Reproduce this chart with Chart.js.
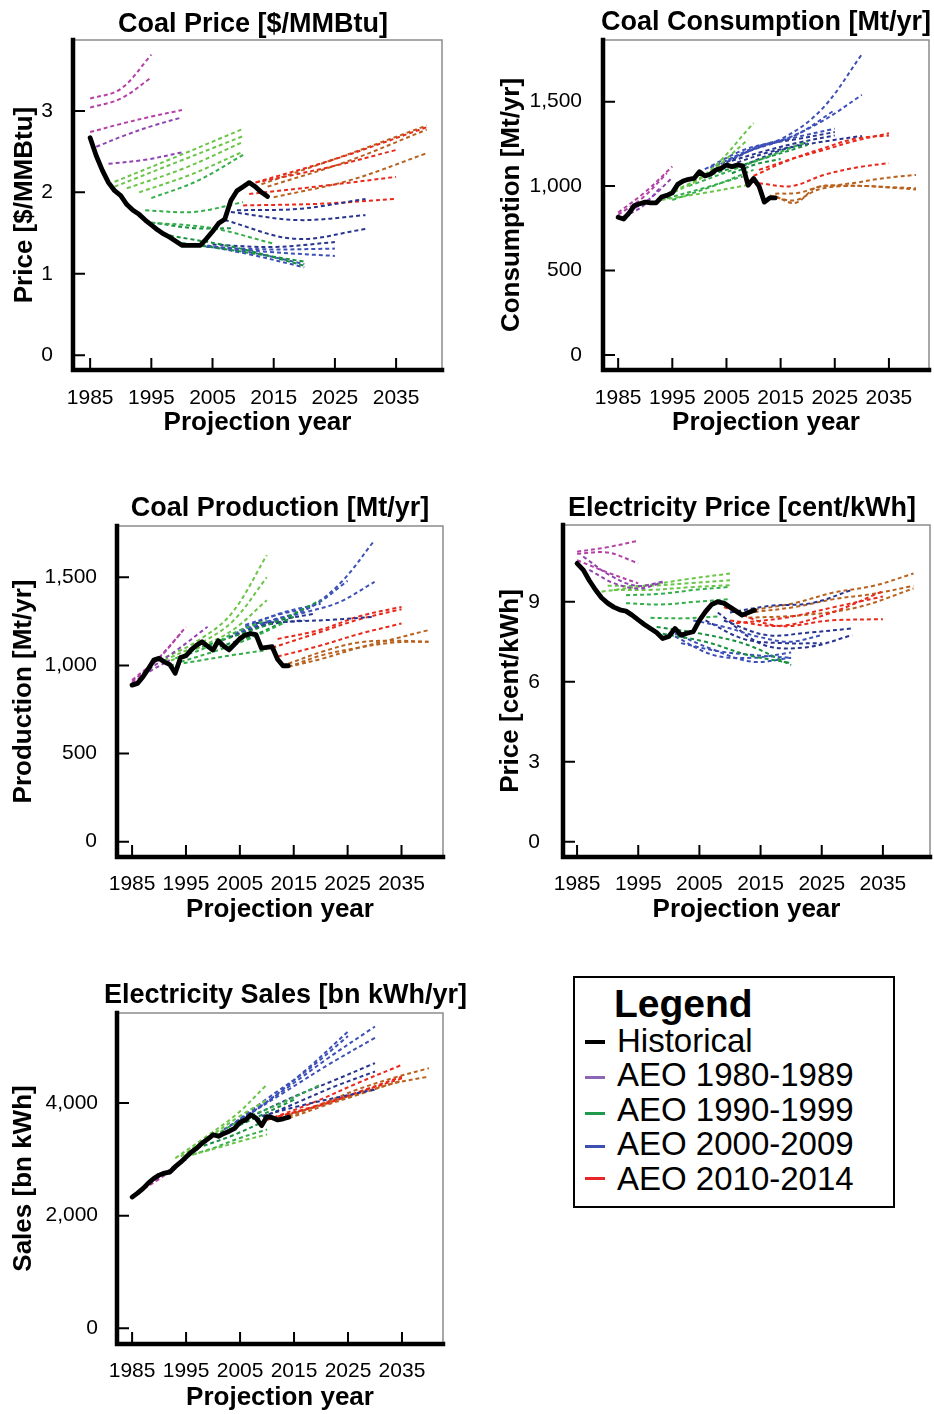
<!DOCTYPE html>
<html>
<head>
<meta charset="utf-8">
<title>AEO projections vs. historical</title>
<script src="https://cdn.jsdelivr.net/npm/chart.js@4.4.1/dist/chart.umd.min.js"></script>
<style>
  body { margin: 0; width: 934px; height: 1414px; position: relative; background: #fff; overflow: hidden;
         font-family: "Liberation Sans", Arial, Helvetica, sans-serif; color: #000; }
  canvas { position: absolute; }
  #legend { position: absolute; left: 573px; top: 976px; width: 318px; height: 228px; border: 2px solid #000; }
  #legend .t { position: absolute; left: 39px; top: 5.7px; font-size: 39px; line-height: 39px; font-weight: bold; }
  #legend .it { position: absolute; left: 42px; font-size: 33px; line-height: 33px; white-space: nowrap; }
  #legend .sw { position: absolute; left: 10px; width: 20px; }
</style>
</head>
<body>
<canvas id="c1" width="467" height="450" style="left:0;top:0"></canvas>
<canvas id="c2" width="467" height="450" style="left:467px;top:0"></canvas>
<canvas id="c3" width="467" height="470" style="left:0;top:470px"></canvas>
<canvas id="c4" width="467" height="470" style="left:467px;top:470px"></canvas>
<canvas id="c5" width="467" height="454" style="left:0;top:960px"></canvas>

<div id="legend">
  <div class="t">Legend</div>
  <div class="sw" style="top:61.7px;height:4px;background:#000"></div>
  <div class="it" style="top:45.8px">Historical</div>
  <div class="sw" style="top:97.8px;height:3px;background:#8e66b6"></div>
  <div class="it" style="top:80.3px">AEO 1980-1989</div>
  <div class="sw" style="top:133.8px;height:3px;background:#1e9a4a"></div>
  <div class="it" style="top:114.8px">AEO 1990-1999</div>
  <div class="sw" style="top:167.2px;height:3px;background:#3b50b0"></div>
  <div class="it" style="top:149.3px">AEO 2000-2009</div>
  <div class="sw" style="top:198.8px;height:3px;background:#e8262a"></div>
  <div class="it" style="top:183.8px">AEO 2010-2014</div>
</div>

<script>
Chart.defaults.font.family = '"Liberation Sans", Arial, Helvetica, sans-serif';
Chart.defaults.color = '#000';

// historical series all start in 1985, one value per year
const firstYear = 1985;
const xTicks = [1985, 1995, 2005, 2015, 2025, 2035];

// projection lines: [first year, last year, values evenly spread between them]

// --- coal price [$/MMBtu]
const coalPriceTicks = [0, 1, 2, 3];
const coalPriceHist = [2.67, 2.45, 2.27, 2.12, 2.02, 1.96, 1.85, 1.78, 1.73, 1.66,
  1.60, 1.54, 1.49, 1.45, 1.40, 1.35, 1.35, 1.35, 1.35, 1.43,
  1.52, 1.62, 1.67, 1.90, 2.02, 2.07, 2.12, 2.07, 2.00, 1.95];
const coalPrice80s = [
  [1985, 1995, 3.15, 3.27, 3.69],
  [1985, 1995, 3.04, 3.15, 3.41],
  [1985, 2000, 2.74, 2.84, 2.93, 3.01],
  [1986, 2000, 2.56, 2.70, 2.82, 2.92],
  [1988, 2000, 2.35, 2.40, 2.49]
];
const coalPrice90s = [
  [1989, 2010, 2.13, 2.45, 2.78],
  [1989, 2010, 2.07, 2.38, 2.69],
  [1991, 2010, 2.05, 2.30, 2.62],
  [1993, 2010, 2.00, 2.22, 2.50],
  [1995, 2010, 1.93, 2.14, 2.46],
  [1994, 2010, 1.78, 1.76, 1.88],
  [1995, 2015, 1.63, 1.56, 1.37],
  [1996, 2008, 1.62, 1.56, 1.56],
  [1998, 2020, 1.47, 1.32, 1.10],
  [2000, 2020, 1.38, 1.27, 1.15]
];
const coalPrice00s = [
  [2002, 2020, 1.37, 1.24, 1.08],
  [2003, 2020, 1.36, 1.26, 1.12],
  [2003, 2025, 1.35, 1.27, 1.22],
  [2004, 2025, 1.33, 1.30, 1.31],
  [2005, 2025, 1.36, 1.33, 1.39],
  [2007, 2030, 1.66, 1.43, 1.55],
  [2008, 2030, 1.76, 1.66, 1.72],
  [2009, 2030, 1.78, 1.80, 1.92]
];
const coalPrice10s = [
  [2010, 2035, 1.84, 1.86, 1.92],
  [2011, 2035, 1.98, 2.08, 2.19],
  [2012, 2035, 2.12, 2.30, 2.52],
  [2011, 2040, 2.10, 2.42, 2.80],
  [2013, 2040, 2.10, 2.45, 2.82],
  [2014, 2040, 2.07, 2.38, 2.77],
  [2015, 2040, 1.94, 2.15, 2.48]
];

// --- coal consumption [Mt/yr]
const consTicks = [0, 500, 1000, 1500];
const consHist = [815, 805, 840, 885, 895, 905, 900, 900, 935, 945,
  960, 1010, 1030, 1040, 1045, 1085, 1060, 1070, 1095, 1105,
  1125, 1115, 1125, 1120, 1005, 1045, 1000, 905, 930, 930];
const cons80s = [
  [1985, 1995, 843, 965, 1116],
  [1985, 1994, 830, 930, 1076],
  [1986, 1993, 820, 880, 1000],
  [1987, 1995, 850, 930, 1050]
];
const cons90s = [
  [1993, 2010, 938, 1080, 1373],
  [1993, 2009, 928, 1060, 1275],
  [1993, 2009, 918, 960, 1007],
  [1994, 2008, 928, 990, 1057],
  [1995, 2010, 918, 1000, 1096],
  [1998, 2020, 1000, 1130, 1264],
  [2001, 2020, 1057, 1150, 1244],
  [2006, 2015, 1076, 1130, 1160]
];
const cons00s = [
  [2001, 2030, 1100, 1215, 1285, 1460, 1780],
  [2002, 2030, 1110, 1205, 1280, 1390, 1540],
  [2003, 2025, 1120, 1230, 1300, 1450],
  [2004, 2025, 1130, 1230, 1290, 1340],
  [2005, 2025, 1140, 1240, 1280, 1320],
  [2006, 2025, 1150, 1210, 1260, 1300],
  [2007, 2030, 1140, 1200, 1240, 1270, 1297],
  [2008, 2020, 1120, 1200, 1260]
];
const cons10s = [
  [2010, 2035, 1060, 1150, 1220, 1280, 1300],
  [2011, 2035, 1096, 1160, 1214, 1270, 1313],
  [2011, 2035, 1017, 1000, 1066, 1110, 1136],
  [2014, 2040, 940, 900, 990, 1005, 1020, 1040, 1055, 1066],
  [2014, 2040, 955, 960, 1000, 1002, 1000, 993, 987],
  [2013, 2040, 945, 915, 980, 1000, 1000, 990, 980]
];

// --- coal production [Mt/yr]
const prodTicks = [0, 500, 1000, 1500];
const prodHist = [888, 898, 935, 980, 1030, 1040, 1020, 1005, 955, 1045,
  1055, 1090, 1115, 1134, 1110, 1087, 1140, 1110, 1088, 1120,
  1152, 1172, 1180, 1175, 1098, 1102, 1106, 1035, 998, 998];
const prod80s = [
  [1985, 1995, 907, 1040, 1219],
  [1985, 1994, 917, 1030, 1181],
  [1985, 1992, 898, 970, 1030],
  [1987, 1999, 955, 1080, 1219]
];
const prod90s = [
  [1990, 2010, 1030, 1130, 1290, 1625],
  [1991, 2010, 1030, 1120, 1250, 1500],
  [1991, 2010, 1010, 1100, 1200, 1370],
  [1993, 2010, 1040, 1100, 1190, 1257],
  [1992, 2010, 1000, 1030, 1060, 1087],
  [1994, 2013, 1020, 1080, 1150, 1238],
  [1998, 2020, 1105, 1180, 1260, 1370],
  [2000, 2015, 1095, 1170, 1276]
];
const prod00s = [
  [2005, 2030, 1200, 1260, 1320, 1470, 1710],
  [2004, 2030, 1180, 1250, 1300, 1360, 1474],
  [2006, 2025, 1230, 1290, 1340, 1480],
  [2006, 2020, 1220, 1300, 1350],
  [2008, 2030, 1240, 1250, 1260, 1276],
  [2003, 2017, 1160, 1230, 1257],
  [2004, 2019, 1180, 1250, 1295]
];
const prod10s = [
  [2012, 2035, 1150, 1200, 1280, 1332],
  [2011, 2035, 1100, 1180, 1260, 1319],
  [2012, 2035, 1050, 1110, 1180, 1238],
  [2014, 2040, 992, 1040, 1100, 1150, 1200],
  [2014, 2040, 992, 1060, 1100, 1130, 1134],
  [2014, 2040, 1010, 1080, 1130, 1140, 1134]
];

// --- electricity price [cent/kWh]
const elecPriceTicks = [0, 3, 6, 9];
const elecPriceHist = [10.44, 10.20, 9.80, 9.45, 9.15, 8.95, 8.80, 8.70, 8.65, 8.50,
  8.32, 8.15, 8.00, 7.85, 7.62, 7.70, 8.00, 7.75, 7.82, 7.88,
  8.30, 8.63, 8.90, 9.00, 8.95, 8.80, 8.65, 8.50, 8.60, 8.68];
const elecPrice80s = [
  [1985, 1995, 10.88, 11.05, 11.29],
  [1985, 1995, 10.80, 10.85, 10.44],
  [1985, 1995, 10.56, 10.10, 9.69],
  [1986, 1999, 10.70, 10.00, 9.60, 9.75],
  [1987, 1999, 10.20, 9.70, 9.50, 9.72]
];
const elecPrice90s = [
  [1989, 2010, 9.38, 9.60, 9.85, 10.06],
  [1990, 2010, 9.60, 9.60, 9.70, 9.81],
  [1991, 2010, 9.44, 9.45, 9.55, 9.62],
  [1993, 2010, 9.25, 9.30, 9.45, 9.56],
  [1993, 2010, 8.95, 8.90, 9.00, 9.10],
  [1997, 2008, 8.40, 8.38, 8.45],
  [1998, 2020, 8.06, 7.80, 7.40, 6.63],
  [1999, 2020, 7.80, 7.50, 7.00, 6.70]
];
const elecPrice00s = [
  [2001, 2020, 7.81, 7.20, 6.75, 6.90],
  [2001, 2020, 7.70, 7.00, 6.90, 7.10],
  [2002, 2020, 7.45, 7.15, 7.00, 6.90],
  [2004, 2025, 8.30, 8.05, 7.70, 7.50, 7.75],
  [2006, 2025, 8.30, 7.60, 7.45, 7.45],
  [2008, 2030, 8.60, 7.40, 7.30, 7.75],
  [2009, 2030, 8.30, 7.75, 7.85, 8.00],
  [2010, 2030, 8.60, 8.85, 8.95, 9.45]
];
const elecPrice10s = [
  [2009, 2035, 8.80, 8.10, 8.30, 8.35],
  [2010, 2035, 8.30, 8.10, 8.60, 9.40],
  [2011, 2035, 8.20, 8.40, 8.80, 9.20],
  [2013, 2040, 8.40, 8.50, 8.80, 9.50],
  [2014, 2040, 8.70, 8.95, 9.35, 9.60, 10.06],
  [2014, 2040, 8.62, 8.80, 9.10, 9.30, 9.60]
];

// --- electricity sales [bn kWh/yr]
const salesTicks = [0, 2000, 4000];
const salesHist = [2330, 2400, 2480, 2578, 2660, 2720, 2756, 2775, 2870, 2950,
  3040, 3130, 3200, 3290, 3360, 3437, 3410, 3460, 3500, 3550,
  3660, 3700, 3790, 3730, 3600, 3760, 3740, 3700, 3720, 3750];
const sales80s = [
  [1985, 1995, 2350, 2650, 3000],
  [1986, 1993, 2420, 2640, 2900]
];
const sales90s = [
  [1993, 2010, 3020, 3400, 3800, 4330],
  [1994, 2010, 3050, 3400, 3750, 4060],
  [1996, 2010, 3080, 3200, 3330, 3440],
  [1995, 2010, 3050, 3200, 3380, 3530],
  [1998, 2020, 3300, 3700, 4000, 4330],
  [1999, 2015, 3350, 3700, 4060],
  [1997, 2010, 3200, 3420, 3700]
];
const sales00s = [
  [2002, 2025, 3530, 4000, 4600, 5270],
  [2003, 2025, 3580, 4100, 4600, 5190],
  [2004, 2030, 3640, 4200, 4800, 5360],
  [2005, 2030, 3700, 4200, 4700, 5160],
  [2007, 2030, 3760, 4100, 4400, 4710],
  [2008, 2030, 3700, 4000, 4300, 4560],
  [2009, 2030, 3770, 3950, 4100, 4240]
];
const sales10s = [
  [2010, 2035, 3700, 4000, 4350, 4680],
  [2011, 2035, 3730, 3950, 4200, 4470],
  [2012, 2035, 3760, 3950, 4200, 4440],
  [2014, 2040, 3760, 4000, 4250, 4450, 4620],
  [2014, 2040, 3730, 3950, 4150, 4350, 4470],
  [2014, 2035, 3790, 4000, 4200, 4400]
];

// colour shades per AEO decade (early -> late)
const shades = [
  ['#b441a8', '#8f45b0'],
  ['#6bc648', '#33ae4a', '#17903f'],
  ['#3d50b8', '#28358f'],
  ['#e8291c', '#b8621f']
];

const FAM = '"Liberation Sans", Arial, Helvetica, sans-serif';

function buildSets(hist, groups) {
  const sets = [{
    data: hist.map((v, i) => ({ x: firstYear + i, y: v })),
    borderColor: '#000', borderWidth: 4.8, borderJoinStyle: 'round', borderCapStyle: 'round',
    pointRadius: 0, tension: 0
  }];
  groups.forEach((lines, g) => {
    lines.forEach((ln, i) => {
      const [a, b, ...vals] = ln;
      const step = (b - a) / (vals.length - 1);
      sets.push({
        data: vals.map((v, k) => ({ x: a + k * step, y: v })),
        borderColor: shades[g][Math.floor(i * shades[g].length / lines.length)],
        borderWidth: 2, borderDash: [4, 3], pointRadius: 0, tension: 0.35
      });
    });
  });
  return sets;
}

// thin grey box, thick black left/bottom axes, inward tick marks
const framePlugin = {
  id: 'frame',
  afterDatasetsDraw(chart) {
    const { ctx, chartArea: a, scales: { x, y } } = chart;
    ctx.save();
    ctx.strokeStyle = '#8c8c8c';
    ctx.lineWidth = 1.5;
    ctx.beginPath();
    ctx.moveTo(a.left, a.top); ctx.lineTo(a.right, a.top); ctx.lineTo(a.right, a.bottom);
    ctx.stroke();
    ctx.strokeStyle = '#000';
    ctx.lineWidth = 2;
    ctx.beginPath();
    y.ticks.forEach(t => {
      const py = y.getPixelForValue(t.value);
      ctx.moveTo(a.left, py); ctx.lineTo(a.left + 12, py);
    });
    x.ticks.forEach(t => {
      const px = x.getPixelForValue(t.value);
      ctx.moveTo(px, a.bottom); ctx.lineTo(px, a.bottom - 12);
    });
    ctx.stroke();
    ctx.lineWidth = 4.5;
    ctx.lineCap = 'square';
    ctx.beginPath();
    ctx.moveTo(a.left, a.top); ctx.lineTo(a.left, a.bottom); ctx.lineTo(a.right, a.bottom);
    ctx.stroke();
    ctx.restore();
  }
};

const panelTitle = {
  id: 'panelTitle',
  afterDraw(chart, args, o) {
    const ctx = chart.ctx;
    ctx.save();
    ctx.font = 'bold 27px ' + FAM;
    ctx.fillStyle = '#000';
    ctx.textAlign = 'center';
    ctx.textBaseline = 'middle';
    ctx.fillText(o.text, o.x, o.y);
    ctx.restore();
  }
};

const panels = [
  { id: 'c1', title: 'Coal Price [$/MMBtu]', tx: 253, ty: 25, yLabel: 'Price [$/MMBtu]',
    hist: coalPriceHist, groups: [coalPrice80s, coalPrice90s, coalPrice00s, coalPrice10s], yTicks: coalPriceTicks,
    xMin: 1982.2, xMax: 2042.5, yMin: -0.18, yMax: 3.87,
    padTop: 40, padRight: 25, yW: 73, xH: 80, yTickPad: 20, yTitlePad: 12, xTickPad: 16, xTitlePad: 14 },
  { id: 'c2', title: 'Coal Consumption [Mt/yr]', tx: 299, ty: 23, yLabel: 'Consumption [Mt/yr]',
    hist: consHist, groups: [cons80s, cons90s, cons00s, cons10s], yTicks: consTicks,
    xMin: 1982.2, xMax: 2042.4, yMin: -89, yMax: 1865,
    padTop: 40, padRight: 5, yW: 136, xH: 80, yTickPad: 21, yTitlePad: 32, xTickPad: 16, xTitlePad: 14 },
  { id: 'c3', title: 'Coal Production [Mt/yr]', tx: 280, ty: 39, yLabel: 'Production [Mt/yr]',
    hist: prodHist, groups: [prod80s, prod90s, prod00s, prod10s], yTicks: prodTicks,
    xMin: 1982.2, xMax: 2042.7, yMin: -87, yMax: 1791,
    padTop: 56, padRight: 24, yW: 117, xH: 83, yTickPad: 20, yTitlePad: 11, xTickPad: 14.4, xTitlePad: 17 },
  { id: 'c4', title: 'Electricity Price [cent/kWh]', tx: 275, ty: 39, yLabel: 'Price [cent/kWh]',
    hist: elecPriceHist, groups: [elecPrice80s, elecPrice90s, elecPrice00s, elecPrice10s], yTicks: elecPriceTicks,
    xMin: 1982.7, xMax: 2042.7, yMin: -0.57, yMax: 11.88,
    padTop: 55, padRight: 4, yW: 96, xH: 83, yTickPad: 23, yTitlePad: 31, xTickPad: 14.4, xTitlePad: 17 },
  { id: 'c5', title: 'Electricity Sales [bn kWh/yr]', tx: 285.5, ty: 36, yLabel: 'Sales [bn kWh]',
    hist: salesHist, groups: [sales80s, sales90s, sales00s, sales10s], yTicks: salesTicks,
    xMin: 1982.2, xMax: 2042.6, yMin: -280, yMax: 5600,
    padTop: 53, padRight: 24, yW: 117, xH: 70, yTickPad: 19, yTitlePad: 11, xTickPad: 14.4, xTitlePad: 3 }
];

panels.forEach(p => {
  new Chart(document.getElementById(p.id), {
    type: 'line',
    data: { datasets: buildSets(p.hist, p.groups) },
    options: {
      responsive: false,
      animation: false,
      devicePixelRatio: 1,
      events: [],
      layout: { padding: { top: p.padTop, right: p.padRight, left: 0, bottom: 0 } },
      plugins: {
        legend: { display: false },
        tooltip: { enabled: false },
        panelTitle: { text: p.title, x: p.tx, y: p.ty }
      },
      scales: {
        x: {
          type: 'linear', min: p.xMin, max: p.xMax,
          grid: { display: false, drawTicks: false },
          border: { display: false },
          afterBuildTicks: s => { s.ticks = xTicks.map(v => ({ value: v })); },
          afterFit: s => { s.height = p.xH; },
          ticks: { autoSkip: false, maxRotation: 0, padding: p.xTickPad, color: '#000',
                   font: { size: 21, family: FAM }, callback: v => String(v) },
          title: { display: true, text: 'Projection year', color: '#000',
                   font: { size: 26, weight: 'bold', family: FAM, lineHeight: 1 },
                   padding: { top: 0, bottom: p.xTitlePad } }
        },
        y: {
          type: 'linear', min: p.yMin, max: p.yMax,
          grid: { display: false, drawTicks: false },
          border: { display: false },
          afterBuildTicks: s => { s.ticks = p.yTicks.map(v => ({ value: v })); },
          afterFit: s => { s.width = p.yW; },
          ticks: { autoSkip: false, padding: p.yTickPad, color: '#000',
                   font: { size: 21, family: FAM }, callback: v => v.toLocaleString('en-US') },
          title: { display: true, text: p.yLabel, color: '#000',
                   font: { size: 26, weight: 'bold', family: FAM, lineHeight: 1 },
                   padding: { top: p.yTitlePad, bottom: 0 } }
        }
      }
    },
    plugins: [framePlugin, panelTitle]
  });
});
</script>
</body>
</html>
